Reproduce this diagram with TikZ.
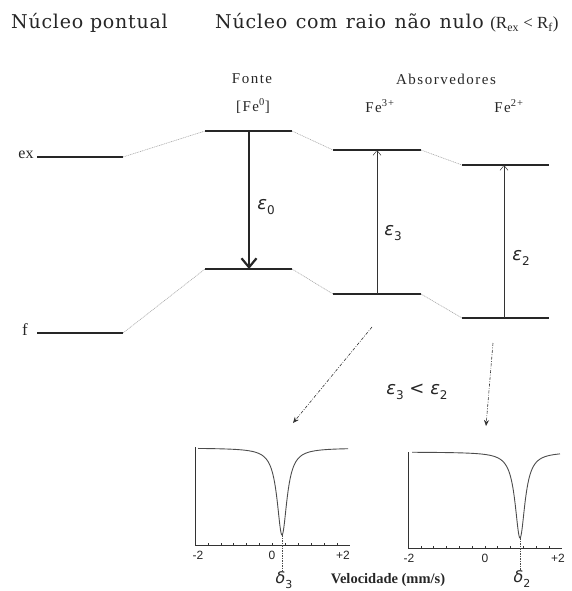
\documentclass[tikz,border=0pt]{standalone}
\usepackage{fontspec}
\setmainfont{Liberation Serif}
\newfontfamily\axfont{Liberation Sans}
\newfontfamily\ttlfont{DejaVu Serif}[LetterSpace=4]
\newfontfamily\smlfont{Liberation Serif}[LetterSpace=10]
\newfontfamily\grk{DejaVu Sans}
\newcommand{\eps}[1]{{\grk\itshape ε}\raisebox{-0.3em}{\grk\fontsize{12}{14}\selectfont #1}}
\newcommand{\dlt}[1]{{\grk\itshape δ}\raisebox{-0.3em}{\grk\fontsize{11}{13}\selectfont #1}}
\usetikzlibrary{arrows.meta}
\begin{document}
\begin{tikzpicture}[x=1pt,y=-1pt,
  level/.style={line width=1.7pt,black!85},
  link/.style={gray!70,line width=0.6pt,dash pattern=on 1pt off 0.8pt},
  thinarrow/.style={-{Straight Barb[length=5pt,width=8pt]},line width=0.5pt,black!80},
  bigarrow/.style={-{Straight Barb[length=9pt,width=15pt]},line width=2.2pt,black!85},
  ddarrow/.style={-{Stealth[length=6pt,width=5pt]},gray!40!black,line width=0.6pt,dash pattern=on 3pt off 1.5pt on 0.8pt off 1.5pt},
  axisline/.style={line width=0.8pt,black!80},
  curve/.style={line width=0.9pt,black!70},
  lbl/.style={inner sep=0pt,font=\smlfont\fontsize{15}{17}\selectfont,black!85},
  ttl/.style={inner sep=0pt,font=\ttlfont\fontsize{19}{22}\selectfont,black!85},
  axl/.style={inner sep=0pt,font=\axfont\fontsize{12}{14}\selectfont,gray!30!black},
  epsl/.style={inner sep=0pt,font=\grk\fontsize{18}{20}\selectfont,black!85}]
\useasboundingbox (0,0) rectangle (571,591);
% titles
\node[ttl,anchor=base west] (t1) at (11,29) {Núcleo pontual};
\node[ttl,anchor=base west] (t2a) at (215,29) {\spaceskip=8.5pt Núcleo com raio não nulo};
\node[inner sep=0pt,anchor=base west,font=\fontsize{17}{20}\selectfont,black!85] (t2b) at ([xshift=6pt]t2a.base east) {(R\textsubscript{ex} < R\textsubscript{f})};
\node[lbl] (fonte) at (252,79) {Fonte};
\node[lbl] (abs) at (446,79) {Absorvedores};
\node[lbl] (fe0) at (253,106) {[Fe\textsuperscript{0}]};
\node[lbl] (fe3) at (380,106) {Fe\textsuperscript{3+}};
\node[lbl] (fe2) at (509,106) {Fe\textsuperscript{2+}};
\node[inner sep=0pt,font=\fontsize{16}{18}\selectfont,black!85] (ex) at (26,155) {ex};
\node[inner sep=0pt,font=\fontsize{17}{19}\selectfont,black!85] (f) at (25,330) {f};
% level coordinates
\coordinate (exPL) at (37,157);  \coordinate (exPR) at (123,157);
\coordinate (exFL) at (205,131); \coordinate (exFR) at (292,131);
\coordinate (exAL) at (333,150); \coordinate (exAR) at (421,150);
\coordinate (exBL) at (462,165); \coordinate (exBR) at (549,165);
\coordinate (fPL) at (37,333);  \coordinate (fPR) at (123,333);
\coordinate (fFL) at (205,269); \coordinate (fFR) at (292,269);
\coordinate (fAL) at (333,294); \coordinate (fAR) at (421,294);
\coordinate (fBL) at (462,318); \coordinate (fBR) at (549,318);
\foreach \a/\b in {exPL/exPR,exFL/exFR,exAL/exAR,exBL/exBR,fPL/fPR,fFL/fFR,fAL/fAR,fBL/fBR}
  \draw[level] (\a) -- (\b);
\foreach \a/\b in {exPR/exFL,exFR/exAL,exAR/exBL,fPR/fFL,fFR/fAL,fAR/fBL}
  \draw[link] (\a) -- (\b);
% transitions
\coordinate (aF1) at (249,131); \coordinate (aF2) at (249,269);
\coordinate (aA1) at (377,294); \coordinate (aA2) at (377,150);
\coordinate (aB1) at (504,318); \coordinate (aB2) at (504,165);
\draw[bigarrow] (aF1) -- (aF2);
\draw[thinarrow] (aA1) -- (aA2);
\draw[thinarrow] (aB1) -- (aB2);
\node[epsl] (e0) at (266,207) {\eps{0}};
\node[epsl] (e3) at (393,233) {\eps{3}};
\node[epsl] (e2) at (521,258) {\eps{2}};
\node[epsl] (cmp) at (417,392) {\eps{3} < \eps{2}};
% dash-dot arrows to spectra
\coordinate (d1s) at (372,327); \coordinate (d1e) at (293,423);
\coordinate (d2s) at (493,343); \coordinate (d2e) at (486,426);
\draw[ddarrow] (d1s) -- (d1e);
\draw[ddarrow] (d2s) -- (d2e);
% left spectrum
\coordinate (L0) at (195,545);
\draw[axisline] (195,447) -- (L0) -- (350,545);
\foreach \i in {1,...,11} \draw[axisline,line width=0.5pt] ({195+\i*12.9},545) -- ++(0,-2.5);
\draw[curve] plot[domain=198:348,samples=301,smooth] (\x,{448+87*36/((\x-282)^2+36)});
\node[axl] (l1) at (198,555) {-2};
\node[axl] (l2) at (272,555) {0};
\node[axl] (l3) at (343,555) {+2};
\node[epsl,font=\grk\fontsize{16}{18}\selectfont] (dl3) at (284,580) {\dlt{3}};
\coordinate (dip1) at (282,535);
\draw[black!70,line width=0.6pt,dash pattern=on 1.5pt off 1pt] (dip1) -- (dl3.north -| dip1);
% right spectrum
\coordinate (R0) at (408,548);
\draw[axisline] (408,452) -- (R0) -- (562,548);
\foreach \i in {1,...,11} \draw[axisline,line width=0.5pt] ({408+\i*12.8},548) -- ++(0,-2.5);
\draw[curve] plot[domain=412:560,samples=297,smooth] (\x,{452+86*36/((\x-520)^2+36)});
\node[axl] (r1) at (409,558) {-2};
\node[axl] (r2) at (485,558) {0};
\node[axl] (r3) at (558,558) {+2};
\node[epsl,font=\grk\fontsize{16}{18}\selectfont] (dl2) at (522,579) {\dlt{2}};
\coordinate (dip2) at (520,538);
\draw[black!70,line width=0.6pt,dash pattern=on 1.5pt off 1pt] (dip2) -- (dl2.north -| dip2);
\node[inner sep=0pt,font=\bfseries\fontsize{14.5}{16}\selectfont,black!85] (vel) at (388,580) {Velocidade (mm/s)};
\end{tikzpicture}
\end{document}
